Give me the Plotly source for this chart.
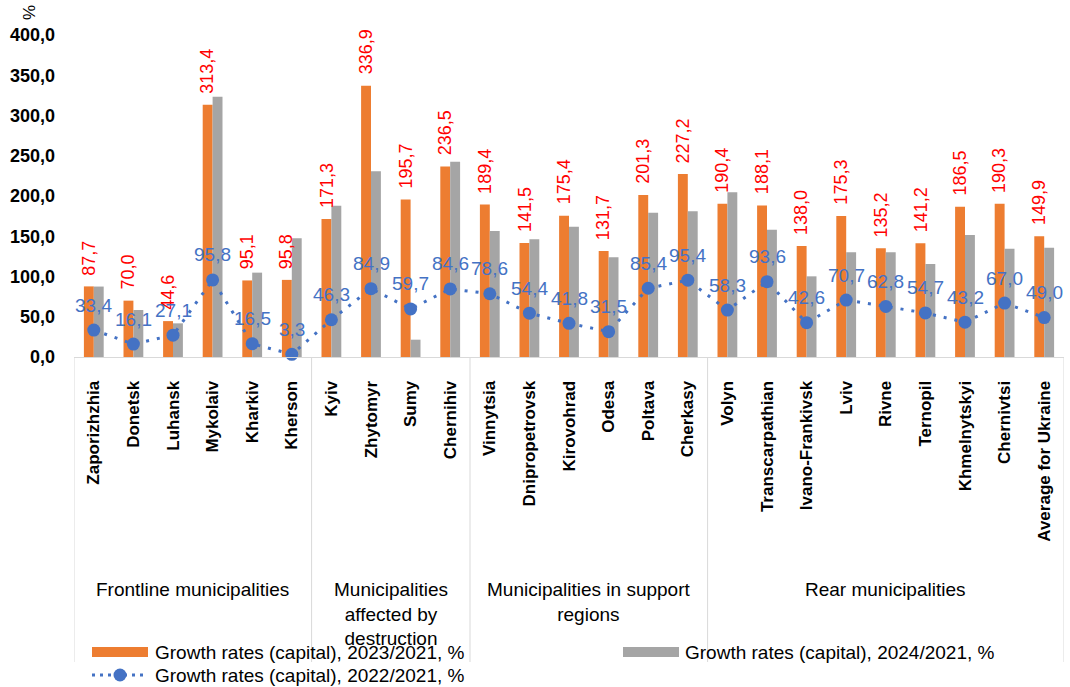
import plotly.graph_objects as go

# Municipalities grouped by zone, plus the national average
categories = [
    "Zaporizhzhia", "Donetsk", "Luhansk", "Mykolaiv", "Kharkiv", "Kherson",
    "Kyiv", "Zhytomyr", "Sumy", "Chernihiv",
    "Vinnytsia", "Dnipropetrovsk", "Kirovohrad", "Odesa", "Poltava", "Cherkasy",
    "Volyn", "Transcarpathian", "Ivano-Frankivsk", "Lviv", "Rivne", "Ternopil",
    "Khmelnytskyi", "Chernivtsi", "Average for Ukraine",
]

growth_2023 = [87.7, 70.0, 44.6, 313.4, 95.1, 95.8,
               171.3, 336.9, 195.7, 236.5,
               189.4, 141.5, 175.4, 131.7, 201.3, 227.2,
               190.4, 188.1, 138.0, 175.3, 135.2, 141.2, 186.5, 190.3, 149.9]

growth_2024 = [87.5, 58.4, 41.8, 323.4, 104.8, 147.4,
               188.0, 230.7, 21.5, 242.6,
               156.5, 146.2, 161.9, 123.8, 179.3, 181.0,
               204.6, 158.2, 100.2, 130.0, 130.0, 115.5, 151.5, 134.5, 135.8]

growth_2022 = [33.4, 16.1, 27.1, 95.8, 16.5, 3.3,
               46.3, 84.9, 59.7, 84.6,
               78.6, 54.4, 41.8, 31.5, 85.4, 95.4,
               58.3, 93.6, 42.6, 70.7, 62.8, 54.7, 43.2, 67.0, 49.0]

group_names = ["Frontline municipalities",
               "Municipalities<br>affected by<br>destruction",
               "Municipalities in support<br>regions",
               "Rear municipalities"]
group_sizes = [6, 4, 6, 9]

series_names = ["Growth rates (capital), 2023/2021, %",
                "Growth rates (capital), 2024/2021, %",
                "Growth rates (capital), 2022/2021, %"]

ORANGE = "#ED7D31"
GREY = "#A5A5A5"
BLUE = "#4472C4"
RED = "#FF0000"
FONT = "Liberation Sans"

W, H = 1070, 687
M_L, M_R, M_T, M_B = 74, 6, 35, 330
PLOT_W = W - M_L - M_R
PLOT_H = H - M_T - M_B


def px_x(px):
    return (px - M_L) / PLOT_W


def px_y(py):
    return (H - M_B - py) / PLOT_H


def fmt(v):
    return f"{v:.1f}".replace(".", ",")


BARGAP = 0.5
bar_w = (1 - BARGAP) / 2

fig = go.Figure()

fig.add_trace(go.Bar(
    x=categories, y=growth_2023, name=series_names[0],
    marker=dict(color=ORANGE, line=dict(width=0)),
))
fig.add_trace(go.Bar(
    x=categories, y=growth_2024, name=series_names[1],
    marker=dict(color=GREY, line=dict(width=0)),
))
fig.add_trace(go.Scatter(
    x=categories, y=growth_2022, name=series_names[2],
    mode="lines+markers",
    line=dict(color=BLUE, width=3, dash="3px,8px"),
    marker=dict(color=BLUE, size=13),
    cliponaxis=False,
))

annotations = []

# Rotated value labels above the 2023 bars
for i, v in enumerate(growth_2023):
    annotations.append(dict(
        x=i - bar_w / 2, y=v, xref="x", yref="y",
        text=fmt(v), textangle=-90,
        showarrow=False, xanchor="center", yanchor="bottom", yshift=9,
        font=dict(family=FONT, size=18, color=RED),
    ))

# Value labels above the 2022 markers
for i, v in enumerate(growth_2022):
    annotations.append(dict(
        x=i, y=v, xref="x", yref="y", text=fmt(v),
        showarrow=False, xanchor="center", yanchor="middle", yshift=25,
        font=dict(family=FONT, size=19, color=BLUE),
    ))

# Group captions and separators below the category labels
sep_bottom = px_y(662)
shapes = []
start = 0
for name, size in zip(group_names, group_sizes):
    end = start + size
    annotations.append(dict(
        x=(start + end - 1) / 2, y=px_y(577), xref="x", yref="paper",
        text=name, showarrow=False, xanchor="center", yanchor="top",
        font=dict(family=FONT, size=19, color="#000000"),
    ))
    shapes.append(dict(type="line", xref="x", yref="paper",
                       x0=start - 0.5, x1=start - 0.5, y0=0, y1=sep_bottom,
                       line=dict(color="#D9D9D9", width=1)))
    start = end
shapes.append(dict(type="line", xref="x", yref="paper",
                   x0=start - 0.5, x1=start - 0.5, y0=0, y1=sep_bottom,
                   line=dict(color="#D9D9D9", width=1)))

# Axis unit
annotations.append(dict(
    x=px_x(30), y=px_y(13), xref="paper", yref="paper", text="%",
    textangle=-90, showarrow=False, xanchor="center", yanchor="middle",
    font=dict(family=FONT, size=17, color="#000000"),
))

# Legend drawn with shapes and text
legend_font = dict(family=FONT, size=19, color="#000000")
row1, row2 = 652, 675
shapes.append(dict(type="rect", xref="paper", yref="paper",
                   x0=px_x(92), x1=px_x(148), y0=px_y(647), y1=px_y(657),
                   fillcolor=ORANGE, line=dict(width=0)))
shapes.append(dict(type="rect", xref="paper", yref="paper",
                   x0=px_x(623), x1=px_x(679), y0=px_y(647), y1=px_y(657),
                   fillcolor=GREY, line=dict(width=0)))
shapes.append(dict(type="line", xref="paper", yref="paper",
                   x0=px_x(92), x1=px_x(148), y0=px_y(row2), y1=px_y(row2),
                   line=dict(color=BLUE, width=3, dash="3px,5px")))
shapes.append(dict(type="circle", xref="paper", yref="paper",
                   x0=px_x(113.5), x1=px_x(126.5),
                   y0=px_y(row2 - 6.5), y1=px_y(row2 + 6.5),
                   fillcolor=BLUE, line=dict(width=0)))
for label, lx, ly in [(series_names[0], 153, row1),
                      (series_names[1], 683, row1),
                      (series_names[2], 153, row2)]:
    annotations.append(dict(
        x=px_x(lx), y=px_y(ly), xref="paper", yref="paper", text=label,
        showarrow=False, xanchor="left", yanchor="middle", font=legend_font,
    ))

fig.update_layout(
    width=W, height=H,
    margin=dict(l=M_L, r=M_R, t=M_T, b=M_B, pad=0),
    paper_bgcolor="white", plot_bgcolor="white",
    barmode="group", bargap=BARGAP, bargroupgap=0,
    showlegend=False,
    separators=", ",
    font=dict(family=FONT, color="#000000"),
    annotations=annotations,
    shapes=shapes,
)

fig.update_xaxes(
    type="category", tickangle=-90,
    tickfont=dict(family=FONT, size=17, color="#000000", weight="bold"),
    showline=True, linecolor="#D9D9D9", linewidth=1,
    showgrid=False, ticks="", ticklabelstandoff=16,
    range=[-0.5, len(categories) - 0.5],
)
fig.update_yaxes(
    range=[0, 400], dtick=50, tickformat=".1f",
    tickfont=dict(family=FONT, size=18, color="#000000", weight="bold"),
    showgrid=False, zeroline=False, showline=False, ticks="",
    ticklabelstandoff=18,
)

fig.write_html("out.html")
